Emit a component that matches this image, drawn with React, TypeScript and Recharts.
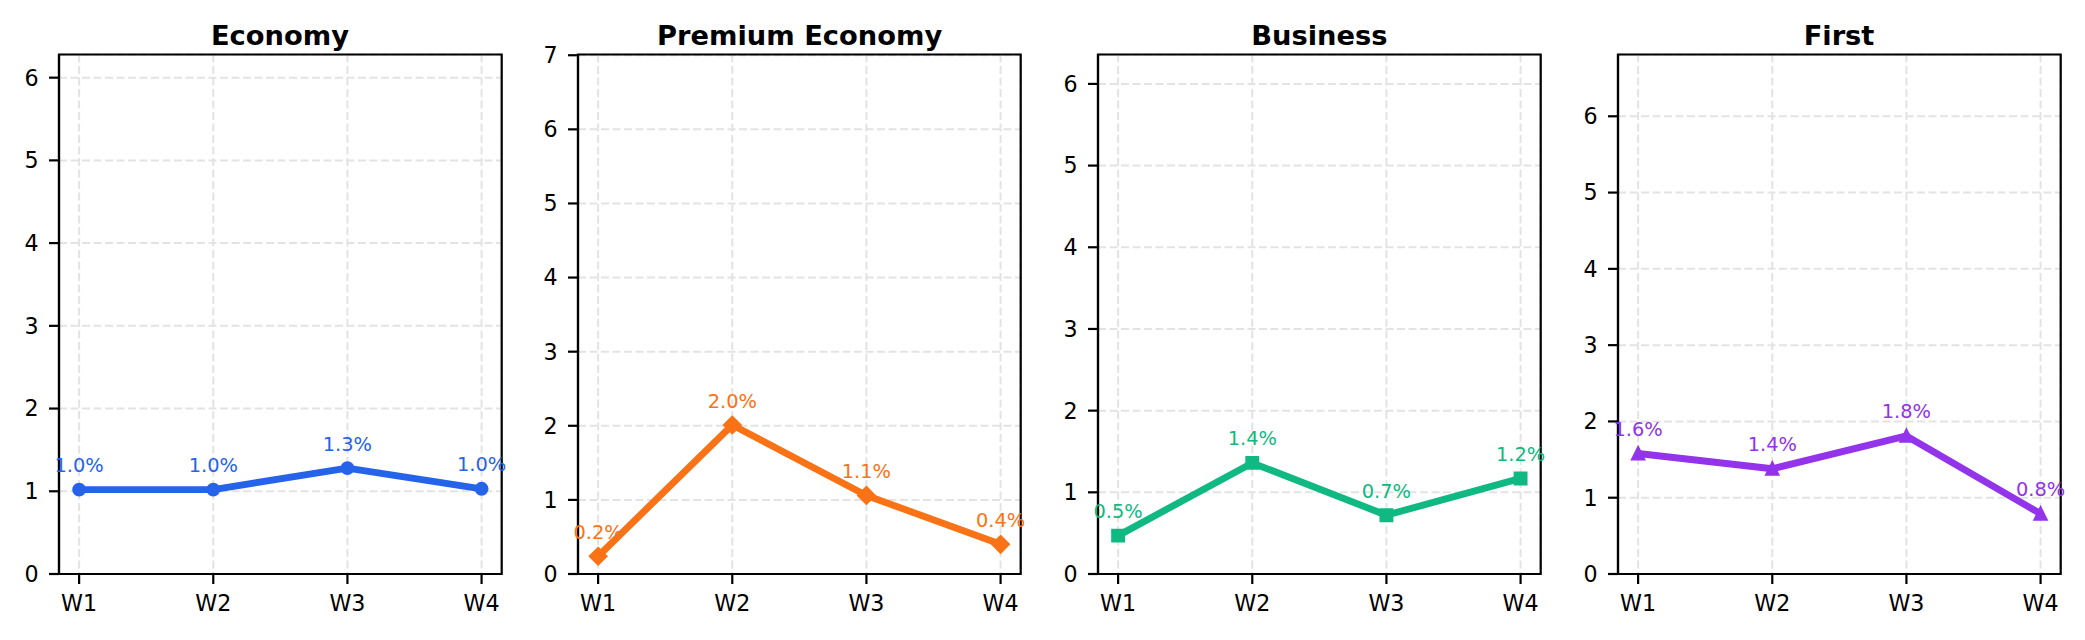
import React from 'react';
import {
  LineChart,
  Line,
  XAxis,
  YAxis,
  CartesianGrid,
  ReferenceArea,
  LabelList,
} from 'recharts';

// weekly change (%) per cabin class
const WEEKS = ['W1', 'W2', 'W3', 'W4'];
const ECONOMY = [1.02, 1.02, 1.28, 1.03];
const PREMIUM_ECONOMY = [0.24, 2.01, 1.06, 0.4];
const BUSINESS = [0.47, 1.36, 0.72, 1.17];
const FIRST = [1.58, 1.38, 1.81, 0.79];

const TITLES = ['Economy', 'Premium Economy', 'Business', 'First'];
const SERIES = [ECONOMY, PREMIUM_ECONOMY, BUSINESS, FIRST];
const COLORS = ['#2563eb', '#f97316', '#10b981', '#9333ea'];
const MARKERS = ['circle', 'diamond', 'square', 'triangle'];

const X_TICKS = [0, 1, 2, 3];
const Y_TICKS_SHORT = [0, 1, 2, 3, 4, 5, 6];
const Y_TICKS_TALL = [0, 1, 2, 3, 4, 5, 6, 7];

const FONT = '"DejaVu Sans", sans-serif';

// layout (px)
const PANEL_STEP = 519.7;
const AX_LEFT = 58.6;
const AX_WIDTH = 442.7;
const AX_TOP = 54.5;
const Y_AXIS_W = 70;
const X_AXIS_H = 40;
const CHART_W = 520;
const CHART_H = 640;

const markerPath = (shape: string, cx: number, cy: number) => {
  switch (shape) {
    case 'diamond': {
      const r = 7.85;
      return `M${cx},${cy - r}L${cx + r},${cy}L${cx},${cy + r}L${cx - r},${cy}Z`;
    }
    case 'square': {
      const h = 5.55;
      return `M${cx - h},${cy - h}L${cx + h},${cy - h}L${cx + h},${cy + h}L${cx - h},${cy + h}Z`;
    }
    case 'triangle': {
      const h = 5.55;
      return `M${cx},${cy - h}L${cx + h},${cy + h}L${cx - h},${cy + h}Z`;
    }
    default:
      return '';
  }
};

function Panel({ index }: { index: number }) {
  const values = SERIES[index];
  const color = COLORS[index];
  const shape = MARKERS[index];
  const yMax = Math.max(...values) + 5;
  const yTicks = yMax >= 7 ? Y_TICKS_TALL : Y_TICKS_SHORT;

  const data = values.map((v, i) => ({ idx: i, week: WEEKS[i], value: v }));

  const renderDot = (props: any) => {
    const { cx, cy, index: i } = props;
    if (cx == null || cy == null) return <g key={`d${i}`} />;
    if (shape === 'circle') {
      return (
        <circle key={`d${i}`} cx={cx} cy={cy} r={5.55} fill={color} stroke={color} strokeWidth={2.8} />
      );
    }
    return (
      <path
        key={`d${i}`}
        d={markerPath(shape, cx, cy)}
        fill={color}
        stroke={color}
        strokeWidth={2.8}
        strokeLinejoin="miter"
      />
    );
  };

  const renderLabel = (props: any) => {
    const x = props.x ?? props.viewBox?.x;
    const y = props.y ?? props.viewBox?.y;
    const v = Number(props.value);
    return (
      <text x={x} y={y - 17.5} textAnchor="middle" fill={color} fontSize={19.4} fontFamily={FONT}>
        {`${v.toFixed(1)}%`}
      </text>
    );
  };

  const tickStyle = { fontSize: 22.2, fill: '#000', fontFamily: FONT };

  return (
    <div
      style={{
        position: 'absolute',
        left: AX_LEFT + index * PANEL_STEP - Y_AXIS_W,
        top: 0,
        width: CHART_W,
        height: CHART_H,
      }}
    >
      <LineChart
        width={CHART_W}
        height={CHART_H}
        data={data}
        margin={{
          top: AX_TOP,
          right: CHART_W - Y_AXIS_W - AX_WIDTH,
          bottom: CHART_H - 574 - X_AXIS_H,
          left: 0,
        }}
      >
        <CartesianGrid stroke="#e3e3e3" strokeDasharray="8 3.5" strokeWidth={2} />
        <XAxis
          type="number"
          dataKey="idx"
          domain={[-0.15, 3.15]}
          ticks={X_TICKS}
          interval={0}
          tickFormatter={(v) => WEEKS[v]}
          height={X_AXIS_H}
          tick={tickStyle}
          tickSize={10}
          tickMargin={11.5}
          tickLine={{ stroke: '#000', strokeWidth: 2.2 }}
          axisLine={{ stroke: '#000', strokeWidth: 2.2 }}
        />
        <YAxis
          type="number"
          domain={[0, yMax]}
          ticks={yTicks}
          interval={0}
          width={Y_AXIS_W}
          tick={tickStyle}
          tickSize={10}
          tickMargin={10.5}
          tickLine={{ stroke: '#000', strokeWidth: 2.2 }}
          axisLine={{ stroke: '#000', strokeWidth: 2.2 }}
        />
        <ReferenceArea
          x1={-0.15}
          x2={3.15}
          y1={0}
          y2={yMax}
          fill="none"
          fillOpacity={0}
          stroke="#000"
          strokeWidth={2.2}
          ifOverflow="visible"
        />
        <Line
          type="linear"
          dataKey="value"
          stroke={color}
          strokeWidth={6.9}
          strokeLinejoin="round"
          dot={renderDot}
          activeDot={false}
          isAnimationActive={false}
        >
          <LabelList dataKey="value" content={renderLabel} />
        </Line>
      </LineChart>
    </div>
  );
}

export default function App() {
  return (
    <div
      style={{
        position: 'absolute',
        left: 0,
        top: 0,
        width: 2085,
        height: 640,
        background: '#fff',
        overflow: 'hidden',
      }}
    >
      {TITLES.map((_, i) => (
        <Panel key={i} index={i} />
      ))}
      <svg
        width={2085}
        height={640}
        style={{ position: 'absolute', left: 0, top: 0, pointerEvents: 'none' }}
      >
        {TITLES.map((t, i) => (
          <text
            key={t}
            x={AX_LEFT + i * PANEL_STEP + AX_WIDTH / 2}
            y={44.5}
            textAnchor="middle"
            fontSize={27.3}
            fontWeight="bold"
            fontFamily={FONT}
            fill="#000"
          >
            {t}
          </text>
        ))}
      </svg>
    </div>
  );
}
